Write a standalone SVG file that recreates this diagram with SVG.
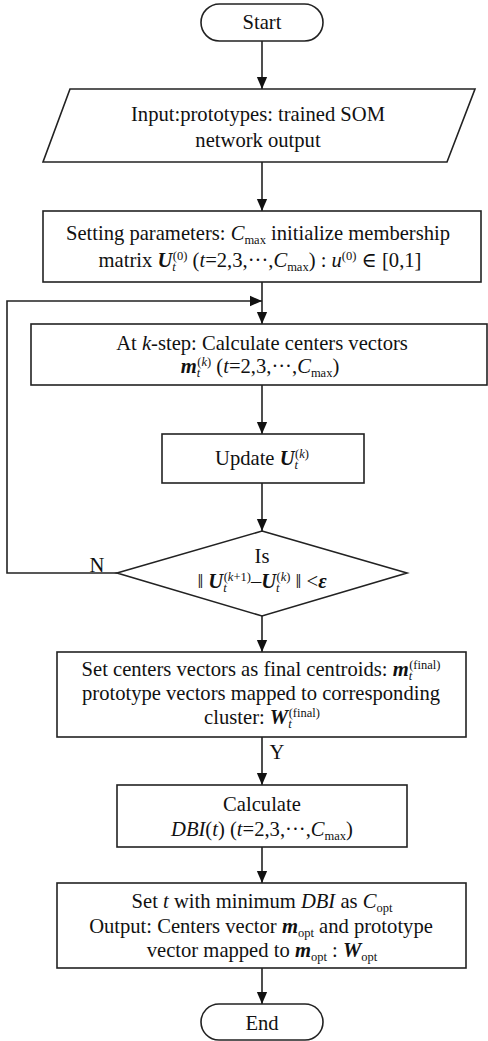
<svg xmlns="http://www.w3.org/2000/svg" width="488" height="1041" viewBox="0 0 488 1041" font-family="'Liberation Serif', 'DejaVu Serif', serif">
<style>
text{font-family:'Liberation Serif','DejaVu Serif',serif;font-size:20.6px;fill:#111;text-anchor:middle}
.n{fill:#fff;stroke:#222;stroke-width:1.6}
.c{fill:none;stroke:#222;stroke-width:1.6}
.bi{font-weight:bold;font-style:italic}
.i{font-style:italic}
.s{font-size:12.5px}
</style>
<defs>
<marker id="ad" markerWidth="12" markerHeight="14" refX="14" refY="6" orient="auto" markerUnits="userSpaceOnUse" viewBox="0 0 14 12">
<path d="M0,0L14,6L0,12Z" fill="#111"/>
</marker>
</defs>
<g id="connectors">
<path class="c" d="M262,41V89" marker-end="url(#ad)"/>
<path class="c" d="M262,162V211" marker-end="url(#ad)"/>
<path class="c" d="M262,282V324" marker-end="url(#ad)"/>
<path class="c" d="M117,573H7V301H262" marker-end="url(#ad)"/>
<path class="c" d="M262,385V434" marker-end="url(#ad)"/>
<path class="c" d="M262,483V531" marker-end="url(#ad)"/>
<path class="c" d="M262,616V652" marker-end="url(#ad)"/>
<path class="c" d="M262,737V785" marker-end="url(#ad)"/>
<path class="c" d="M262,847V883" marker-end="url(#ad)"/>
<path class="c" d="M262,968V1004" marker-end="url(#ad)"/>
<text x="97" y="572">N</text>
<text x="277" y="759">Y</text>
</g>
<g id="start">
<rect class="n" x="201" y="4" width="122" height="37" rx="18.5"/>
<text x="262" y="29">Start</text>
</g>
<g id="input">
<path class="n" d="M70,89H475L447,162H43Z"/>
<text x="258" y="121">Input:prototypes: trained SOM</text>
<text x="258" y="147">network output</text>
</g>
<g id="setting">
<rect class="n" x="43" y="211" width="438" height="71"/>
<text x="258" y="240">Setting parameters: <tspan class="i">C</tspan><tspan class="s" dy="4">max</tspan><tspan dy="-4"> initialize membership</tspan></text>
<text x="260" y="267">matrix <tspan class="bi">U</tspan><tspan class="s i" dy="4">t</tspan><tspan class="s" dx="-3" dy="-11">(0)</tspan><tspan dy="7"> (</tspan><tspan class="i">t</tspan>=2,3,···,<tspan class="i">C</tspan><tspan class="s" dy="4">max</tspan><tspan dy="-4">) : </tspan><tspan class="i">u</tspan><tspan class="s" dy="-7">(0)</tspan><tspan dy="7"> ∈ [0,1]</tspan></text>
</g>
<g id="center-step">
<rect class="n" x="31" y="324" width="456" height="61"/>
<text x="262" y="350">At <tspan class="i">k</tspan>-step: Calculate centers vectors</text>
<text x="260" y="373"><tspan class="bi">m</tspan><tspan class="s i" dy="4">t</tspan><tspan class="s" dx="-3" dy="-11">(<tspan class="i">k</tspan>)</tspan><tspan dy="7"> (</tspan><tspan class="i">t</tspan>=2,3,···,<tspan class="i">C</tspan><tspan class="s" dy="4">max</tspan><tspan dy="-4">)</tspan></text>
</g>
<g id="update">
<rect class="n" x="162" y="434" width="202" height="49"/>
<text x="262" y="465">Update <tspan class="bi">U</tspan><tspan class="s i" dy="4">t</tspan><tspan class="s" dx="-3" dy="-11">(<tspan class="i">k</tspan>)</tspan></text>
</g>
<g id="decision">
<path class="n" d="M262,531L407,573L262,616L117,573Z"/>
<text x="262" y="563">Is</text>
<text x="262" y="588">‖ <tspan class="bi">U</tspan><tspan class="s i" dy="4">t</tspan><tspan class="s" dx="-3" dy="-11">(<tspan class="i">k</tspan>+1)</tspan><tspan dy="7">–</tspan><tspan class="bi">U</tspan><tspan class="s i" dy="4">t</tspan><tspan class="s" dx="-3" dy="-11">(<tspan class="i">k</tspan>)</tspan><tspan dy="7"> ‖ &lt;</tspan><tspan class="bi">ε</tspan></text>
</g>
<g id="final">
<rect class="n" x="57" y="652" width="409" height="85"/>
<text x="261" y="676">Set centers vectors as final centroids: <tspan class="bi">m</tspan><tspan class="s i" dy="4">t</tspan><tspan class="s" dx="-3" dy="-11">(final)</tspan></text>
<text x="261" y="700">prototype vectors mapped to corresponding</text>
<text x="262" y="724">cluster: <tspan class="bi">W</tspan><tspan class="s i" dy="4">t</tspan><tspan class="s" dx="-3" dy="-11">(final)</tspan></text>
</g>
<g id="dbi">
<rect class="n" x="117" y="785" width="290" height="62"/>
<text x="262" y="811">Calculate</text>
<text x="262" y="836"><tspan class="i">DBI</tspan>(<tspan class="i">t</tspan>) (<tspan class="i">t</tspan>=2,3,···,<tspan class="i">C</tspan><tspan class="s" dy="4">max</tspan><tspan dy="-4">)</tspan></text>
</g>
<g id="output">
<rect class="n" x="57" y="883" width="409" height="85"/>
<text x="262" y="908">Set <tspan class="i">t</tspan> with minimum <tspan class="i">DBI</tspan> as <tspan class="i">C</tspan><tspan class="s" dy="4">opt</tspan></text>
<text x="261" y="933">Output: Centers vector <tspan class="bi">m</tspan><tspan class="s" dy="4">opt</tspan><tspan dy="-4"> and prototype</tspan></text>
<text x="262" y="957">vector mapped to <tspan class="bi">m</tspan><tspan class="s" dy="4">opt</tspan><tspan dy="-4"> :  </tspan><tspan class="bi">W</tspan><tspan class="s" dy="4">opt</tspan></text>
</g>
<g id="end">
<rect class="n" x="201" y="1004" width="122" height="36" rx="18"/>
<text x="262" y="1030">End</text>
</g>
</svg>
